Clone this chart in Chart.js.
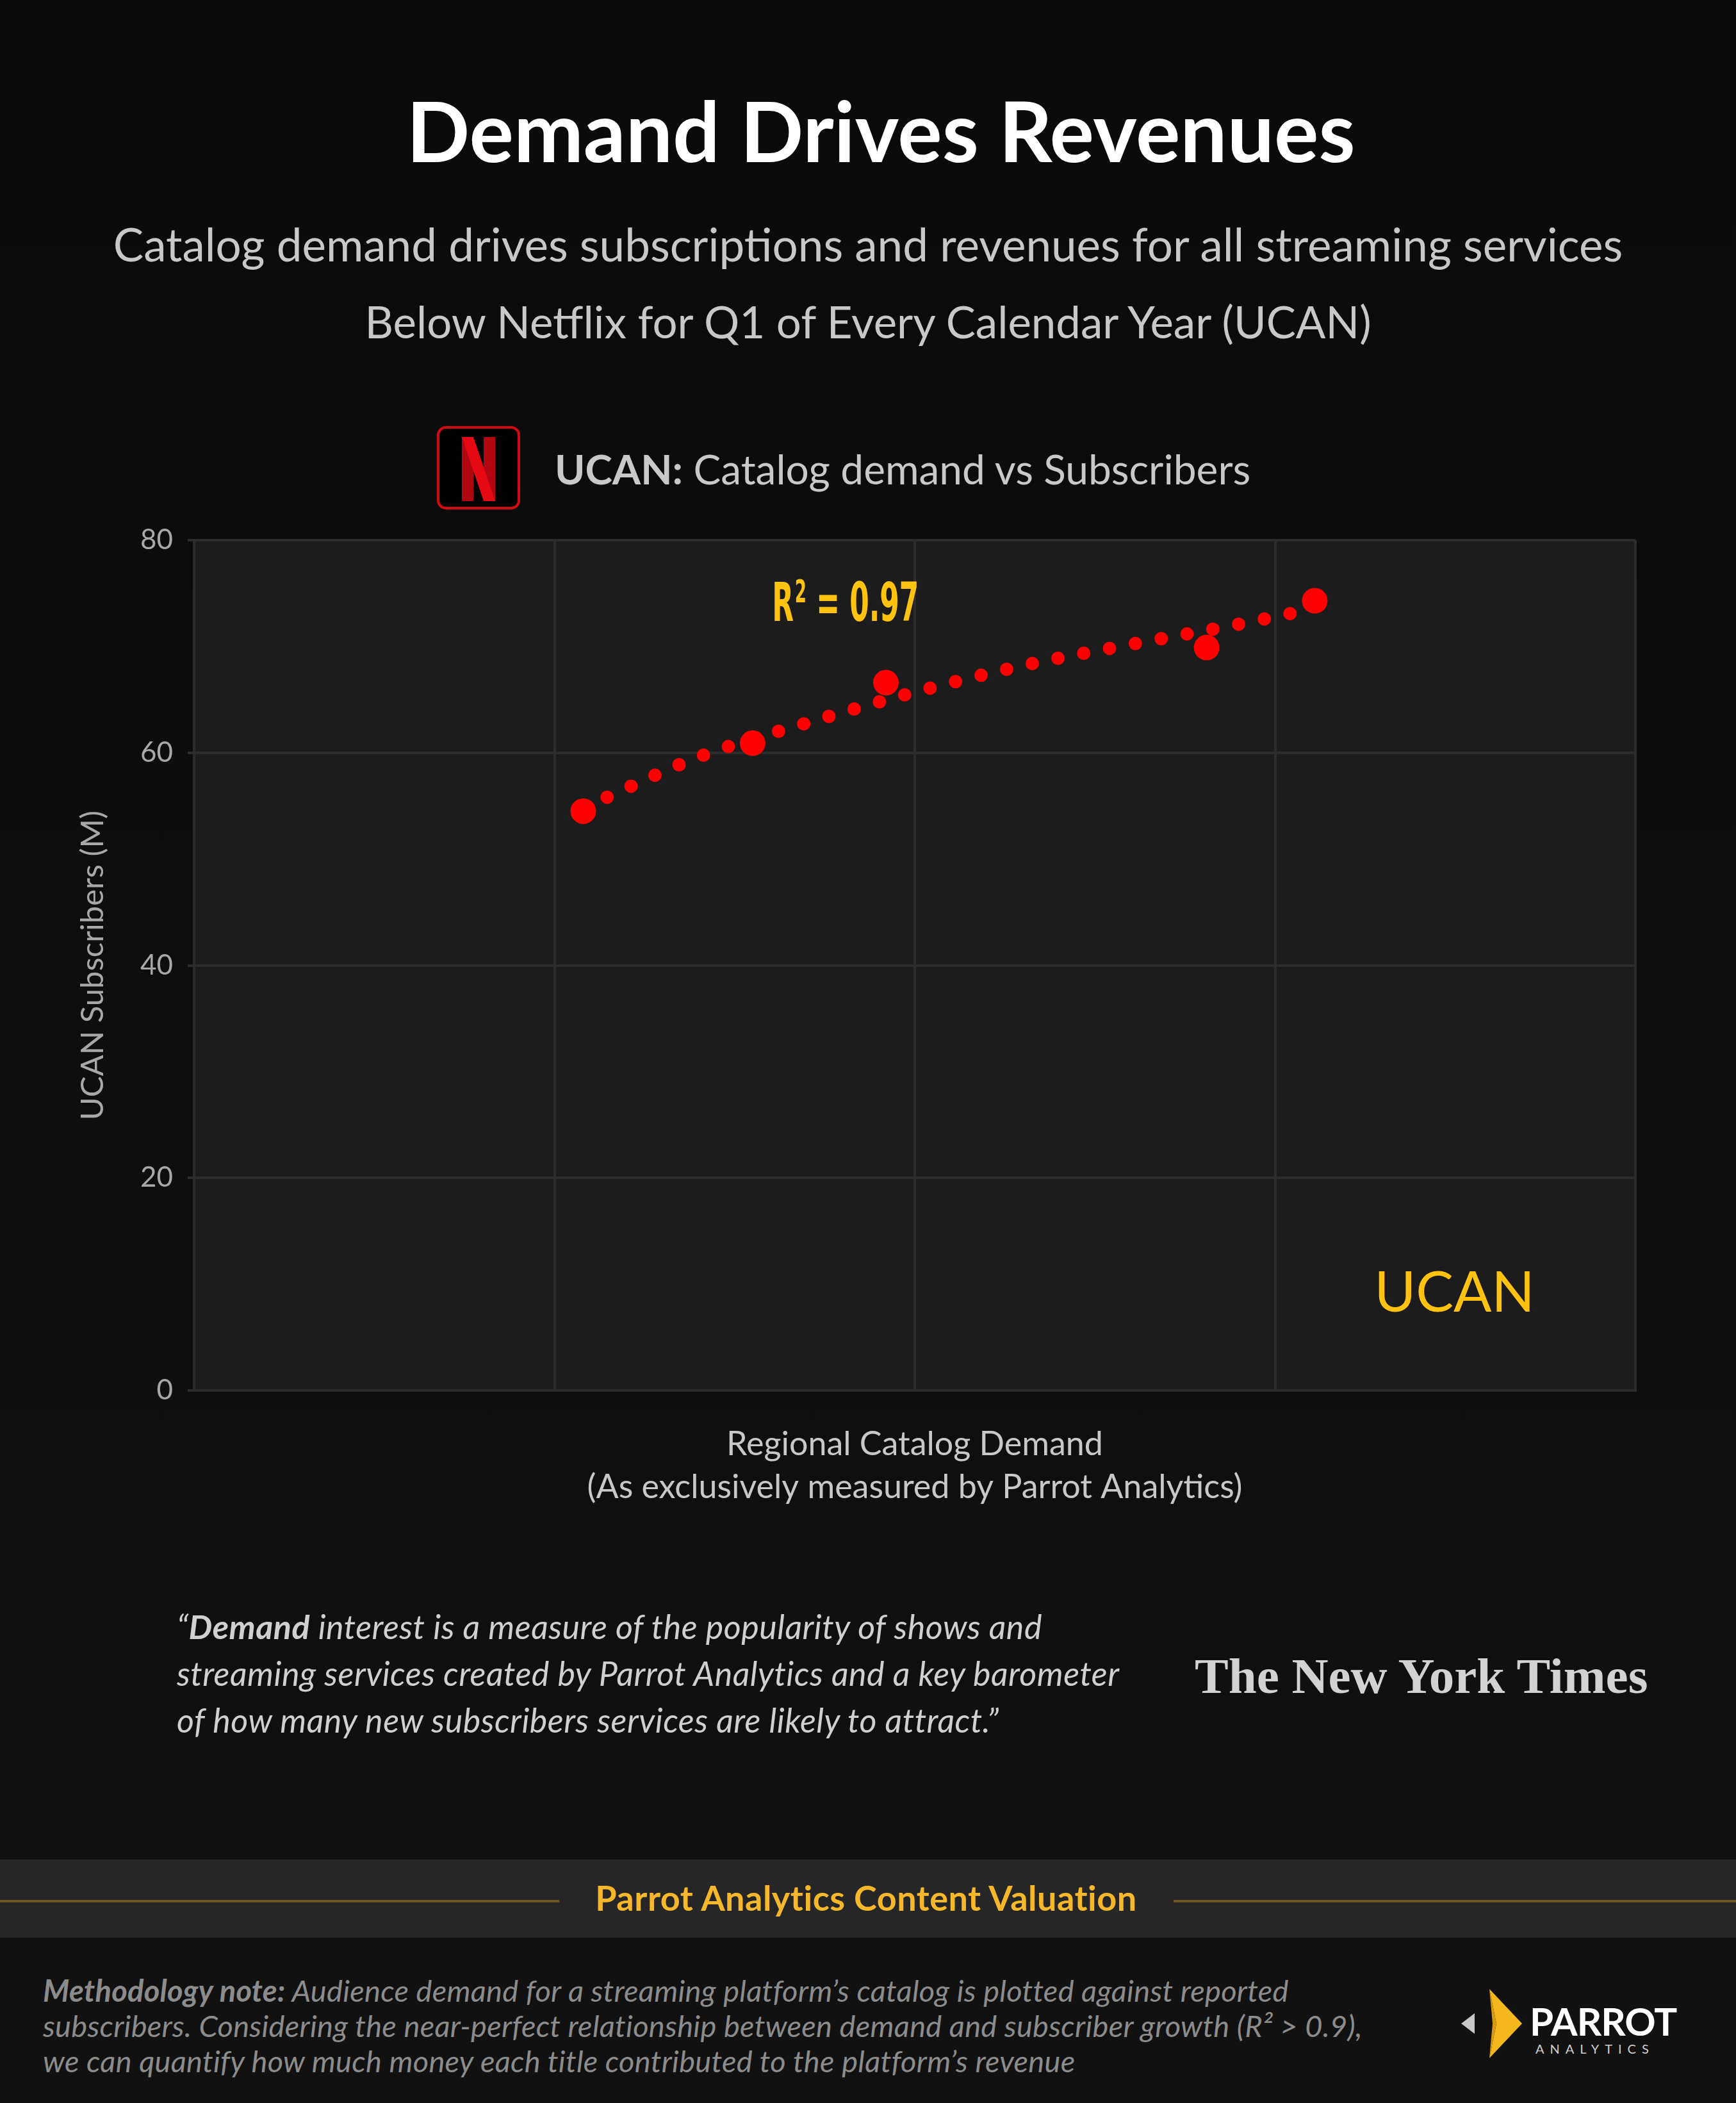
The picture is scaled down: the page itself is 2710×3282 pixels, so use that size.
<!DOCTYPE html>
<html lang="en">

<head>
    <meta charset="UTF-8">
    <title>Demand Drives Revenues</title>
    <style>
        html, body {
            margin: 0;
            padding: 0;
            background: #0e0e0e;
        }

        #page {
            position: relative;
            width: 2710px;
            height: 3282px;
            overflow: hidden;
            font-family: Lato, "Noto Sans", sans-serif;
            background: linear-gradient(#0a0a0a, #101010 2900px);
        }

        .line {
            position: absolute;
            left: 0;
            width: 2710px;
            text-align: center;
            white-space: nowrap;
        }

        .title {
            top: 128px;
            left: 20px;
            font-size: 130px;
            line-height: 150px;
            font-weight: 700;
            color: #ffffff;
        }

        .sub {
            line-height: 80px;
            color: #c8c8c8;
        }

        #netflix {
            position: absolute;
            left: 682px;
            top: 665px;
            width: 130px;
            height: 130px;
        }

        .chart-title {
            position: absolute;
            left: 866px;
            top: 695px;
            font-size: 64px;
            line-height: 74px;
            color: #c9c9c9;
            white-space: nowrap;
        }

        #chart-wrap {
            position: absolute;
            left: 0;
            top: 780px;
            width: 2710px;
            height: 1620px;
        }

        .quote {
            position: absolute;
            left: 276px;
            top: 2502px;
            font-size: 52px;
            line-height: 73px;
            letter-spacing: 0.5px;
            font-style: italic;
            color: #d0d0d0;
            white-space: nowrap;
        }

        .nyt {
            position: absolute;
            left: 1865px;
            top: 2566px;
            font-family: "Liberation Serif", "DejaVu Serif", serif;
            font-weight: 700;
            font-size: 79px;
            line-height: 100px;
            color: #d2d2d2;
            white-space: nowrap;
        }

        .band {
            position: absolute;
            left: 0;
            top: 2902px;
            width: 2710px;
            height: 122px;
            background: #262626;
        }

        .band .rule {
            position: absolute;
            top: 63px;
            height: 4px;
            background: #6e5624;
        }

        .band .label {
            position: absolute;
            left: 0;
            width: 2704px;
            top: 28px;
            line-height: 64px;
            text-align: center;
            font-size: 54px;
            letter-spacing: 0.5px;
            font-weight: 700;
            color: #f6b82a;
        }

        .bottom {
            position: absolute;
            left: 0;
            top: 3024px;
            width: 2710px;
            height: 258px;
            background: #111111;
        }

        .method {
            position: absolute;
            left: 67px;
            top: 3079px;
            font-size: 47px;
            line-height: 55px;
            letter-spacing: 0.3px;
            font-style: italic;
            color: #8c8c8c;
            white-space: nowrap;
        }

        #parrot {
            position: absolute;
            left: 2278px;
            top: 3100px;
            width: 110px;
            height: 116px;
        }

        .parrot-name {
            position: absolute;
            left: 2388px;
            top: 3119px;
            font-size: 60px;
            line-height: 70px;
            font-weight: 700;
            color: #ffffff;
            letter-spacing: -1px;
        }

        .parrot-sub {
            position: absolute;
            left: 2397px;
            top: 3184px;
            font-size: 20px;
            line-height: 26px;
            letter-spacing: 9px;
            color: #cfcfcf;
        }
    </style>
</head>

<body>
    <div id="page">
        <div class="line title">Demand Drives Revenues</div>
        <div class="line sub" style="top: 341px; font-size: 71px;">Catalog demand drives subscriptions and revenues for all streaming services</div>
        <div class="line sub" style="top: 462px; font-size: 69px;">Below Netflix for Q1 of Every Calendar Year (UCAN)</div>

        <!-- Netflix badge -->
        <svg id="netflix" viewBox="0 0 130 130">
            <rect x="2" y="2" width="126" height="126" rx="12" ry="12" fill="#000" stroke="#d10a12" stroke-width="4" />
            <rect x="39" y="17" width="18" height="100" fill="#b1060f" />
            <rect x="73" y="17" width="18" height="100" fill="#b1060f" />
            <polygon points="39,17 57,17 91,117 73,117" fill="#e50914" />
        </svg>
        <div class="chart-title"><b>UCAN:</b> Catalog demand vs Subscribers</div>

        <div id="chart-wrap"><canvas id="chart"></canvas></div>

        <div class="quote">“<b>Demand</b> interest is a measure of the popularity of shows and<br>streaming services created by Parrot Analytics and a key barometer<br>of how many new subscribers services are likely to attract.”</div>
        <div class="nyt">The New York Times</div>

        <div class="band">
            <div class="rule" style="left: 0; width: 873px;"></div>
            <div class="rule" style="left: 1832px; width: 878px;"></div>
            <div class="label">Parrot Analytics Content Valuation</div>
        </div>

        <div class="bottom"></div>
        <div class="method"><b>Methodology note:</b> Audience demand for a streaming platform’s catalog is plotted against reported<br>subscribers. Considering the near-perfect relationship between demand and subscriber growth (R² &gt; 0.9),<br>we can quantify how much money each title contributed to the platform’s revenue</div>

        <!-- Parrot Analytics logo -->
        <svg id="parrot" viewBox="0 0 110 116">
            <polygon points="3,58 24,42 24,74" fill="#c8c8c8" />
            <polygon points="47,4 98,58 47,112 58,58" fill="#f5b81c" />
            <polygon points="47,4 58,58 47,112 52,58" fill="#d99a12" />
        </svg>
        <div class="parrot-name">PARROT</div>
        <div class="parrot-sub">ANALYTICS</div>
    </div>

    <script src="https://cdn.jsdelivr.net/npm/chart.js"></script>

    <script>
        // Data
        const demand = [1.08, 1.55, 1.92, 2.81, 3.11];
        const subscribers = [54.5, 60.9, 66.6, 69.9, 74.3];

        // Fitted trend line
        const trendDemand = [1.08, 1.40, 1.70, 2.00, 2.30, 2.60, 2.90, 3.10];
        const trendSubs = [54.8, 59.6, 62.8, 65.7, 68.2, 70.2, 72.1, 73.5];

        const yTicks = [0, 20, 40, 60, 80];
        const xGrid = [0, 1, 2, 3, 4];

        const regionLabel = 'UCAN';

        const gridColor = '#2c2c2c';
        const yellow = '#ffc20e';

        // Background of the plot area and the two in-chart labels
        const chartDecor = {
            id: 'chartDecor',
            beforeDraw(chart) {
                const { ctx, chartArea: a } = chart;
                ctx.save();
                ctx.fillStyle = '#1c1c1c';
                ctx.fillRect(a.left, a.top, a.right - a.left, a.bottom - a.top);
                ctx.restore();
            },
            afterDatasetsDraw(chart) {
                const { ctx, scales: { x, y } } = chart;
                const narrow = '"Liberation Sans Narrow", "DejaVu Sans Condensed", sans-serif';
                ctx.save();
                ctx.fillStyle = yellow;
                ctx.textBaseline = 'middle';

                // R² = 0.97, squeezed to look condensed
                ctx.translate(x.getPixelForValue(1.604), y.getPixelForValue(73.7));
                ctx.scale(0.58, 1);
                ctx.font = 'bold 84px ' + narrow;
                ctx.fillText('R', 0, 0);
                let w = ctx.measureText('R').width;
                ctx.font = 'bold 50px ' + narrow;
                ctx.fillText('2', w + 3, -20);
                w += ctx.measureText('2').width + 3;
                ctx.font = 'bold 84px ' + narrow;
                ctx.fillText(' = 0.97', w, 0);
                ctx.setTransform(1, 0, 0, 1, 0, 0);

                // UCAN region tag
                ctx.font = '88px Lato, sans-serif';
                ctx.textAlign = 'center';
                ctx.fillText(regionLabel, x.getPixelForValue(3.498), y.getPixelForValue(9.1));
                ctx.restore();
            }
        };

        const ctx = document.getElementById('chart').getContext('2d');
        const myChart = new Chart(ctx, {
            type: 'scatter',
            data: {
                datasets: [{
                    label: 'Trend',
                    data: trendDemand.map((v, i) => ({ x: v, y: trendSubs[i] })),
                    showLine: true,
                    borderColor: '#ff0000',
                    borderWidth: 21,
                    borderDash: [0, 41],
                    borderCapStyle: 'round',
                    pointRadius: 0,
                    cubicInterpolationMode: 'monotone',
                    order: 2
                }, {
                    label: 'UCAN',
                    data: demand.map((v, i) => ({ x: v, y: subscribers[i] })),
                    backgroundColor: '#ff0000',
                    borderWidth: 0,
                    pointRadius: 20,
                    order: 1
                }]
            },
            options: {
                responsive: true,
                maintainAspectRatio: false,
                devicePixelRatio: 1,
                animation: false,
                layout: {
                    padding: { top: 63, right: 157, left: 0, bottom: 0 }
                },
                plugins: {
                    legend: { display: false },
                    tooltip: { enabled: false }
                },
                scales: {
                    x: {
                        type: 'linear',
                        min: 0,
                        max: 4,
                        afterBuildTicks: s => { s.ticks = xGrid.map(v => ({ value: v })); },
                        afterFit: s => { s.height = 230; },
                        ticks: { display: false },
                        grid: { color: gridColor, lineWidth: 4, drawTicks: false },
                        border: { color: gridColor, width: 4 },
                        title: {
                            display: true,
                            text: ['Regional Catalog Demand', '(As exclusively measured by Parrot Analytics)'],
                            color: '#c8c8c8',
                            font: { family: 'Lato', size: 52, lineHeight: 1.29 },
                            padding: { top: 0, bottom: 45 }
                        }
                    },
                    y: {
                        min: 0,
                        max: 80,
                        afterBuildTicks: s => { s.ticks = yTicks.map(v => ({ value: v })); },
                        afterFit: s => { s.width = 303; },
                        ticks: {
                            color: '#a8a8a8',
                            padding: 23,
                            font: { family: 'Lato', size: 44 }
                        },
                        grid: { color: gridColor, lineWidth: 4, tickLength: 10 },
                        border: { color: gridColor, width: 4 },
                        title: {
                            display: true,
                            text: 'UCAN Subscribers (M)',
                            color: '#a8a8a8',
                            font: { family: 'Lato', size: 49 },
                            padding: { top: 116, bottom: 0 }
                        }
                    }
                }
            },
            plugins: [chartDecor]
        });
    </script>

</body>

</html>
